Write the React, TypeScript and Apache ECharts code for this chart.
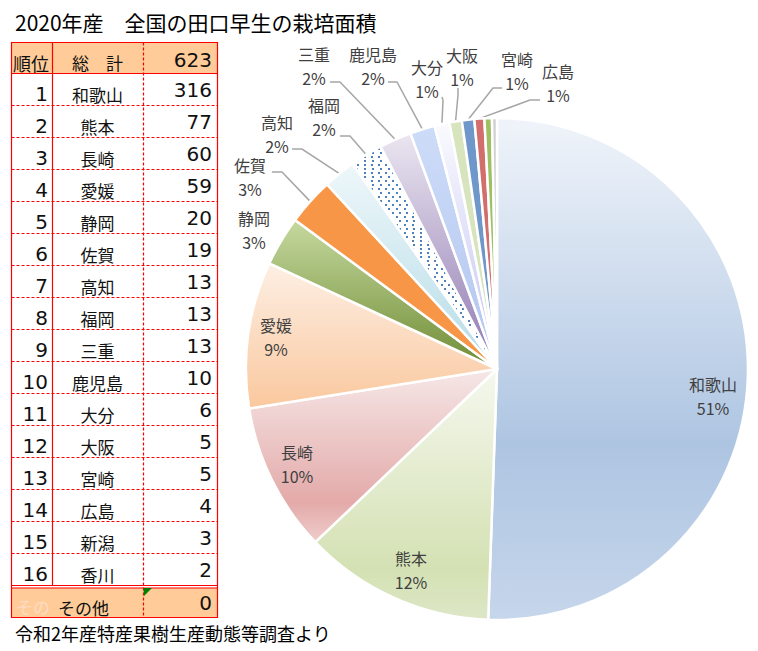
import React, { useEffect, useRef } from "react";
import * as echarts from "echarts";

// ---------- data ----------
const TITLE = "2020年産　全国の田口早生の栽培面積";
const SOURCE = "令和2年産特産果樹生産動態等調査より";
const HEADER_RANK = "順位";
const HEADER_NAME = "総　計";
const TOTAL = 623;
const PREFS = ["和歌山", "熊本", "長崎", "愛媛", "静岡", "佐賀", "高知", "福岡", "三重", "鹿児島", "大分", "大阪", "宮崎", "広島", "新潟", "香川"];
const AREAS = [316, 77, 60, 59, 20, 19, 13, 13, 13, 10, 6, 5, 5, 4, 3, 2];
const OTHER_NAME = "その他";
const OTHER_FADED = "その";
const OTHER_AREA = 0;

// ---------- styles / layout ----------
const FONT_CJK = '"Noto Sans CJK JP", sans-serif';
const FONT_NUM = '"DejaVu Sans", "Noto Sans CJK JP", sans-serif';
const RED = "#ff0000";
const PEACH = "#ffcc99";

// fill per slice: string = flat, array = vertical gradient stops, 'dots' = pattern
const SLICE_FILLS: any[] = [
  [["#f0f4fa", 0], ["#aec5e2", 0.65], ["#c6d6eb", 1]],
  [["#f5f8ee", 0], ["#d4e1b3", 0.8], ["#dde7c7", 1]],
  [["#f6e7e7", 0], ["#e3aaa9", 0.77], ["#efcdcc", 1]],
  [["#fdefe4", 0], ["#fac89e", 1]],
  [["#c6d99f", 0], ["#6f8c35", 1]],
  "#f79646",
  [["#eef7fa", 0], ["#b5dce7", 1]],
  "dots",
  [["#ebe6f1", 0], ["#8e78b0", 1]],
  [["#cddcf8", 0], ["#b3c5f0", 1]],
  [["#fafaff", 0], ["#c2c2f2", 1]],
  "#d7e4bd",
  "#6f97c9",
  "#d26f6c",
  "#9fc062",
  "#d0d0d0",
];

// label block centres and leader-line (elbow, end) points; null = no label
type Spot = { x: number; y: number; mode: "inside" | "outside"; line?: number[][] } | null;
const LABEL_SPOTS: Spot[] = [
  { x: 713, y: 396, mode: "inside" },
  { x: 411, y: 570, mode: "inside" },
  { x: 297, y: 464, mode: "inside" },
  { x: 276, y: 337, mode: "inside" },
  { x: 254, y: 230, mode: "outside" },
  { x: 250, y: 177, mode: "outside", line: [[282, 172], [272, 172]] },
  { x: 277, y: 134, mode: "outside", line: [[302, 149], [292, 149]] },
  { x: 324, y: 117, mode: "outside", line: [[350, 136], [340, 136]] },
  { x: 314, y: 66, mode: "outside", line: [[340, 82], [330, 82]] },
  { x: 373, y: 66, mode: "outside", line: [[397, 82], [388, 82]] },
  { x: 427, y: 79, mode: "outside", line: [[443, 100], [442, 97]] },
  { x: 462, y: 67, mode: "outside", line: [[458, 95], [458, 88]] },
  { x: 517, y: 71, mode: "outside", line: [[493, 88], [502, 88]] },
  { x: 558, y: 83, mode: "outside", line: [[530, 100], [540, 100]] },
  null,
  null,
];

function fillFor(i: number): any {
  const f = SLICE_FILLS[i];
  if (f === "dots") return "#ffffff";
  if (typeof f === "string") return f;
  return {
    type: "linear",
    x: 0,
    y: 0,
    x2: 0,
    y2: 1,
    colorStops: f.map((s: any) => ({ color: s[0], offset: s[1] })),
  };
}

function buildTable(): any[] {
  const L = 11.5, R = 217.5, C1 = 52.5, C2 = 143.5, T = 42.5, H = 73.5, RH = 32;
  const n = PREFS.length;
  const bodyBottom = H + RH * n;
  const otherTop = bodyBottom + 2.5;
  const B = 617.5;
  const els: any[] = [];
  const solid = (x1: number, y1: number, x2: number, y2: number) => ({
    type: "line", shape: { x1, y1, x2, y2 }, style: { stroke: RED, lineWidth: 1.2 }, silent: true,
  });
  const dashed = (x1: number, y1: number, x2: number, y2: number) => ({
    type: "line", shape: { x1, y1, x2, y2 }, style: { stroke: RED, lineWidth: 1.2, lineDash: [3, 2] }, silent: true,
  });
  const text = (t: string, x: number, y: number, align: string, size: number, family: string, fill = "#111") => ({
    type: "text", x, y, silent: true,
    style: { text: t, fill, fontSize: size, fontFamily: family, align, verticalAlign: "middle" },
  });

  els.push({ type: "rect", shape: { x: L, y: T, width: R - L, height: H - T }, style: { fill: PEACH }, silent: true });
  els.push({ type: "rect", shape: { x: L, y: otherTop, width: R - L, height: B - otherTop }, style: { fill: PEACH }, silent: true });
  for (let i = 1; i < n; i++) els.push(dashed(L, H + RH * i, R, H + RH * i));
  els.push(solid(C1, T, C1, bodyBottom));
  els.push(dashed(C2, T, C2, B));
  els.push(solid(L, H, R, H));
  els.push(solid(L, bodyBottom, R, bodyBottom));
  els.push(solid(L, otherTop, R, otherTop));
  els.push({ type: "rect", shape: { x: L, y: T, width: R - L, height: B - T }, style: { fill: "none", stroke: RED, lineWidth: 1.2 }, silent: true });
  els.push({ type: "polygon", shape: { points: [[C2, otherTop], [C2 + 8.5, otherTop], [C2 + 0.5, otherTop + 8]] }, style: { fill: "#008000" }, silent: true });

  els.push(text(HEADER_RANK, 31, 63, "center", 18, FONT_CJK));
  els.push(text(HEADER_NAME, 97.5, 62, "center", 17, FONT_CJK));
  els.push(text(String(TOTAL), 212, 60, "right", 20, FONT_NUM));
  for (let i = 0; i < n; i++) {
    const top = H + RH * i;
    els.push(text(String(i + 1), 48, top + 20, "right", 20, FONT_NUM));
    els.push(text(PREFS[i], 97.5, top + 21, "center", 17, FONT_CJK));
    els.push(text(String(AREAS[i]), 212, top + 16.5, "right", 20, FONT_NUM));
  }
  els.push(text(OTHER_FADED, 16, 606, "left", 17, FONT_CJK, "#fddcc3"));
  els.push(text(OTHER_NAME, 58, 607, "left", 17, FONT_CJK));
  els.push(text(String(OTHER_AREA), 212, 603, "right", 20, FONT_NUM));
  return els;
}

function buildOption(): any {
  const data = PREFS.map((name, i) => {
    const spot = LABEL_SPOTS[i];
    const item: any = { name, value: AREAS[i], itemStyle: { color: fillFor(i) } };
    if (SLICE_FILLS[i] === "dots") {
      item.itemStyle.decal = {
        symbol: "rect",
        symbolSize: 1,
        color: "#4f81bd",
        dashArrayX: [[2, 5], [0, 3.5, 2, 1.5]],
        dashArrayY: [2, 1.5],
        rotation: 0,
      };
    }
    if (!spot) {
      item.label = { show: false };
      item.labelLine = { show: false };
    } else if (spot.mode === "inside") {
      item.label = { position: "inside" };
      item.labelLine = { show: false };
    } else if (!spot.line) {
      item.labelLine = { show: false };
    }
    return item;
  });

  return {
    animation: false,
    backgroundColor: "#ffffff",
    graphic: [
      {
        type: "text", x: 15, y: 21.5, silent: true,
        style: { text: TITLE, fill: "#000", fontSize: 21, fontFamily: FONT_CJK, align: "left", verticalAlign: "middle" },
      },
      {
        type: "text", x: 15, y: 633, silent: true,
        style: { text: SOURCE, fill: "#000", fontSize: 18, fontFamily: FONT_CJK, align: "left", verticalAlign: "middle" },
      },
      ...buildTable(),
    ],
    series: [
      {
        type: "pie",
        center: [497, 369],
        radius: 251,
        startAngle: 90,
        clockwise: true,
        avoidLabelOverlap: false,
        percentPrecision: 0,
        silent: true,
        itemStyle: { borderColor: "#ffffff", borderWidth: 2.5 },
        label: {
          show: true,
          position: "outside",
          formatter: (p: any) => `${p.name}\n${Math.round(p.percent)}%`,
          color: "#404040",
          fontSize: 16,
          lineHeight: 24,
          fontFamily: FONT_CJK,
          textBorderWidth: 0,
        },
        labelLine: {
          show: true,
          length: 10,
          length2: 10,
          smooth: false,
          lineStyle: { color: "#a6a6a6", width: 1.5 },
        },
        labelLayout: (p: any) => {
          const spot = LABEL_SPOTS[p.dataIndex];
          if (!spot) return {};
          const out: any = { x: spot.x, y: spot.y, align: "center", verticalAlign: "middle" };
          if (spot.line && p.labelLinePoints && p.labelLinePoints.length) {
            out.labelLinePoints = [p.labelLinePoints[0], spot.line[0], spot.line[1]];
          }
          return out;
        },
        data,
      },
    ],
  };
}

export default function App() {
  const ref = useRef<HTMLDivElement>(null);
  useEffect(() => {
    if (!ref.current) return;
    const chart = echarts.init(ref.current, null, { renderer: "svg" });
    chart.setOption(buildOption());
    return () => chart.dispose();
  }, []);
  return (
    <div
      ref={ref}
      style={{ position: "fixed", left: 0, top: 0, width: 758, height: 651, background: "#fff" }}
    />
  );
}
